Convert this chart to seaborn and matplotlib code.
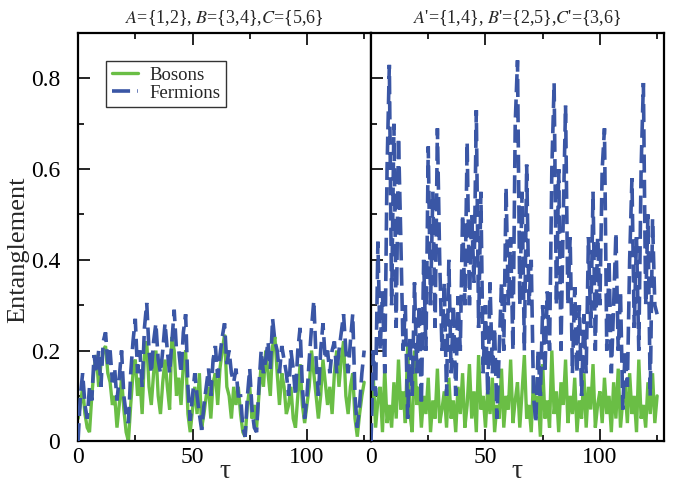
import numpy as np
import pandas as pd
import matplotlib
matplotlib.use("Agg")
import matplotlib.pyplot as plt
from matplotlib.ticker import MultipleLocator, FuncFormatter
from matplotlib.lines import Line2D
import seaborn as sns

# ---------------- data ----------------
tau = list(range(0, 126))

left_fermions = [
    0.0, 0.1, 0.15, 0.08, 0.05, 0.12, 0.09, 0.19, 0.15, 0.2,
    0.12, 0.22, 0.24, 0.17, 0.2, 0.13, 0.16, 0.09, 0.14, 0.2,
    0.1, 0.06, 0.04, 0.15, 0.22, 0.27, 0.15, 0.2, 0.12, 0.25,
    0.305, 0.2, 0.15, 0.22, 0.26, 0.18, 0.15, 0.2, 0.26, 0.2,
    0.15, 0.22, 0.29, 0.2, 0.2, 0.15, 0.24, 0.28, 0.12, 0.045,
    0.1, 0.15, 0.1, 0.06, 0.025, 0.08, 0.12, 0.16, 0.1, 0.18,
    0.21, 0.14, 0.19, 0.23, 0.26, 0.17, 0.2, 0.15, 0.13, 0.16,
    0.1, 0.1, 0.03, 0.01, 0.1, 0.16, 0.07, 0.03, 0.02, 0.12,
    0.2, 0.15, 0.18, 0.22, 0.16, 0.27, 0.22, 0.2, 0.15, 0.21,
    0.18, 0.15, 0.1, 0.2, 0.16, 0.1, 0.2, 0.25, 0.12, 0.05,
    0.1, 0.18, 0.25, 0.31, 0.18, 0.1, 0.2, 0.26, 0.18, 0.2,
    0.15, 0.2, 0.22, 0.15, 0.2, 0.24, 0.28, 0.2, 0.15, 0.22,
    0.28, 0.1, 0.03, 0.08, 0.15, 0.2,
]

left_bosons = [
    0.05, 0.08, 0.12, 0.06, 0.03, 0.02, 0.1, 0.16, 0.19, 0.12,
    0.17, 0.2, 0.21, 0.15, 0.13, 0.08, 0.1, 0.03, 0.08, 0.14,
    0.07, 0.02, 0.0, 0.08, 0.15, 0.18, 0.1, 0.14, 0.06, 0.19,
    0.22, 0.12, 0.08, 0.15, 0.2, 0.1, 0.06, 0.13, 0.18, 0.12,
    0.07, 0.23, 0.2, 0.1, 0.14, 0.08, 0.17, 0.2, 0.06, 0.02,
    0.07, 0.12, 0.06, 0.15, 0.03, 0.06, 0.1, 0.12, 0.05, 0.13,
    0.15, 0.08, 0.16, 0.2, 0.235, 0.12, 0.1, 0.05, 0.12, 0.08,
    0.12, 0.06, 0.02, 0.01, 0.08, 0.12, 0.05, 0.08, 0.03, 0.1,
    0.17, 0.12, 0.2, 0.15, 0.1, 0.21, 0.23, 0.15, 0.08, 0.15,
    0.12, 0.06, 0.08, 0.12, 0.05, 0.03, 0.1, 0.17, 0.08, 0.04,
    0.08, 0.12, 0.2, 0.15, 0.1, 0.05, 0.1, 0.18, 0.13, 0.08,
    0.12, 0.06, 0.15, 0.2, 0.12, 0.18, 0.22, 0.1, 0.06, 0.12,
    0.15, 0.05, 0.01, 0.06, 0.1, 0.13,
]

right_fermions = [
    0.0, 0.2, 0.1, 0.44, 0.2, 0.33, 0.15, 0.6, 0.83, 0.3,
    0.7, 0.25, 0.67, 0.45, 0.2, 0.3, 0.05, 0.23, 0.1, 0.35,
    0.15, 0.3, 0.08, 0.4, 0.2, 0.65, 0.3, 0.55, 0.25, 0.69,
    0.4, 0.2, 0.35, 0.1, 0.4, 0.15, 0.3, 0.1, 0.32, 0.2,
    0.5, 0.3, 0.66, 0.3, 0.5, 0.35, 0.73, 0.25, 0.55, 0.15,
    0.3, 0.1, 0.35, 0.15, 0.25, 0.05, 0.2, 0.35, 0.2, 0.56,
    0.3, 0.45, 0.2, 0.7, 0.84, 0.3, 0.55, 0.2, 0.61, 0.3,
    0.4, 0.1, 0.04, 0.2, 0.1, 0.3, 0.15, 0.33, 0.2, 0.6,
    0.79, 0.3, 0.6, 0.2, 0.5, 0.74, 0.3, 0.45, 0.15, 0.34,
    0.15, 0.3, 0.1, 0.28, 0.15, 0.45, 0.25, 0.55, 0.2, 0.45,
    0.3, 0.6, 0.69, 0.2, 0.4, 0.15, 0.3, 0.46, 0.2, 0.33,
    0.07, 0.2, 0.12, 0.4, 0.58, 0.25, 0.45, 0.2, 0.6, 0.79,
    0.3, 0.5, 0.1, 0.49, 0.3, 0.28,
]

right_bosons = [
    0.06, 0.14, 0.03, 0.09, 0.12, 0.02, 0.16, 0.04, 0.08, 0.03,
    0.13, 0.05, 0.18, 0.07, 0.11, 0.04, 0.21, 0.06, 0.02, 0.20,
    0.08, 0.12, 0.03, 0.10, 0.06, 0.14, 0.02, 0.09, 0.05, 0.16,
    0.04, 0.07, 0.11, 0.03, 0.14, 0.05, 0.09, 0.02, 0.12, 0.06,
    0.15, 0.03, 0.08, 0.17, 0.05, 0.11, 0.02, 0.19, 0.07, 0.10,
    0.03, 0.12, 0.06, 0.14, 0.02, 0.08, 0.05, 0.16, 0.03, 0.10,
    0.07, 0.18, 0.04, 0.09, 0.13, 0.03, 0.11, 0.19, 0.05, 0.08,
    0.02, 0.14, 0.06, 0.10, 0.01, 0.17, 0.05, 0.09, 0.03, 0.20,
    0.06, 0.11, 0.02, 0.13, 0.08, 0.18, 0.04, 0.10, 0.06, 0.14,
    0.02, 0.09, 0.05, 0.15, 0.03, 0.12, 0.07, 0.17, 0.03, 0.08,
    0.11, 0.04, 0.14, 0.06, 0.10, 0.02, 0.13, 0.05, 0.16, 0.03,
    0.09, 0.12, 0.04, 0.15, 0.06, 0.10, 0.02, 0.18, 0.05, 0.08,
    0.03, 0.13, 0.06, 0.15, 0.04, 0.10,
]

series_names = ["Bosons", "Fermions"]
panel_titles = [r"$A$={1,2}, $B$={3,4},$C$={5,6}",
                r"$A$'={1,4}, $B$'={2,5},$C$'={3,6}"]
x_label = "τ"
y_label = "Entanglement"

# ---------------- styling ----------------
sns.set_theme(style="ticks")
plt.rcParams["font.family"] = ["Liberation Serif", "DejaVu Serif"]
plt.rcParams["mathtext.fontset"] = "stix"
plt.rcParams["lines.solid_joinstyle"] = "miter"
plt.rcParams["lines.dash_joinstyle"] = "miter"
plt.rcParams["lines.dash_capstyle"] = "butt"

GREEN = "#6abe45"
BLUE = "#3a56a5"
palette = {"Bosons": GREEN, "Fermions": BLUE}
dashes = {"Bosons": "", "Fermions": (5, 2)}

fig = plt.figure(figsize=(6.73, 4.87), dpi=100)
gs = fig.add_gridspec(1, 2, left=0.116, right=0.9866, top=0.932,
                      bottom=0.094, wspace=0)
ax0 = fig.add_subplot(gs[0, 0])
ax1 = fig.add_subplot(gs[0, 1], sharey=ax0)
axes = [ax0, ax1]

panels = [(left_bosons, left_fermions), (right_bosons, right_fermions)]

for i, (ax, (bos, fer)) in enumerate(zip(axes, panels)):
    df = pd.DataFrame({
        "tau": tau + tau,
        "value": bos + fer,
        "kind": ["Bosons"] * len(bos) + ["Fermions"] * len(fer),
    })
    sns.lineplot(data=df[df.kind == "Bosons"], x="tau", y="value",
                 hue="kind", style="kind", palette=palette, dashes=dashes,
                 linewidth=2.4, ax=ax, legend=False, estimator=None)
    sns.lineplot(data=df[df.kind == "Fermions"], x="tau", y="value",
                 hue="kind", style="kind", palette=palette, dashes=dashes,
                 linewidth=2.6, ax=ax, legend=False, estimator=None)
    lines = ax.get_lines()
    lines[0].set_zorder(2)   # bosons
    lines[1].set_zorder(3)   # fermions on top
    for ln in lines:
        ln.set_solid_joinstyle("miter")
        ln.set_dash_joinstyle("miter")

    ax.set_xlim(0, 128)
    ax.set_ylim(0, 0.9)
    ax.xaxis.set_major_locator(MultipleLocator(50))
    ax.xaxis.set_minor_locator(MultipleLocator(25))
    ax.yaxis.set_major_locator(MultipleLocator(0.2))
    ax.yaxis.set_minor_locator(MultipleLocator(0.1))
    ax.tick_params(which="both", direction="in", top=True, right=False,
                   left=True, bottom=True, width=1.2, colors="black",
                   labelsize=17)
    ax.tick_params(axis="y", pad=13)
    ax.tick_params(axis="x", pad=4)
    ax.tick_params(which="major", length=8.5)
    ax.tick_params(which="minor", length=4.3)
    for sp in ax.spines.values():
        sp.set_linewidth(1.6)
        sp.set_color("black")
    ax.set_xlabel(x_label, fontsize=20, labelpad=-6)
    ax.set_title(panel_titles[i], fontsize=13, pad=7)
    ax.set_facecolor("white")

ax0.set_ylabel(y_label, fontsize=19)
ax0.yaxis.set_label_coords(-0.168, 0.47)
ax1.set_ylabel("")
ax0.yaxis.set_major_formatter(
    FuncFormatter(lambda v, p: "0" if abs(v) < 1e-9 else f"{v:.1f}"))
plt.setp(ax1.get_yticklabels(), visible=False)

handles = [Line2D([], [], color=GREEN, lw=2.4),
           Line2D([], [], color=BLUE, lw=2.6, dashes=(5, 2))]
leg = ax0.legend(handles, series_names, loc="upper left",
                 bbox_to_anchor=(0.097, 0.932), fontsize=13.5,
                 frameon=True, fancybox=False, edgecolor="black",
                 handlelength=1.4, handletextpad=0.6, borderpad=0.3,
                 labelspacing=0.05, borderaxespad=0)
leg.get_frame().set_linewidth(1.0)

fig.savefig("out.png", dpi=100, facecolor="white")
